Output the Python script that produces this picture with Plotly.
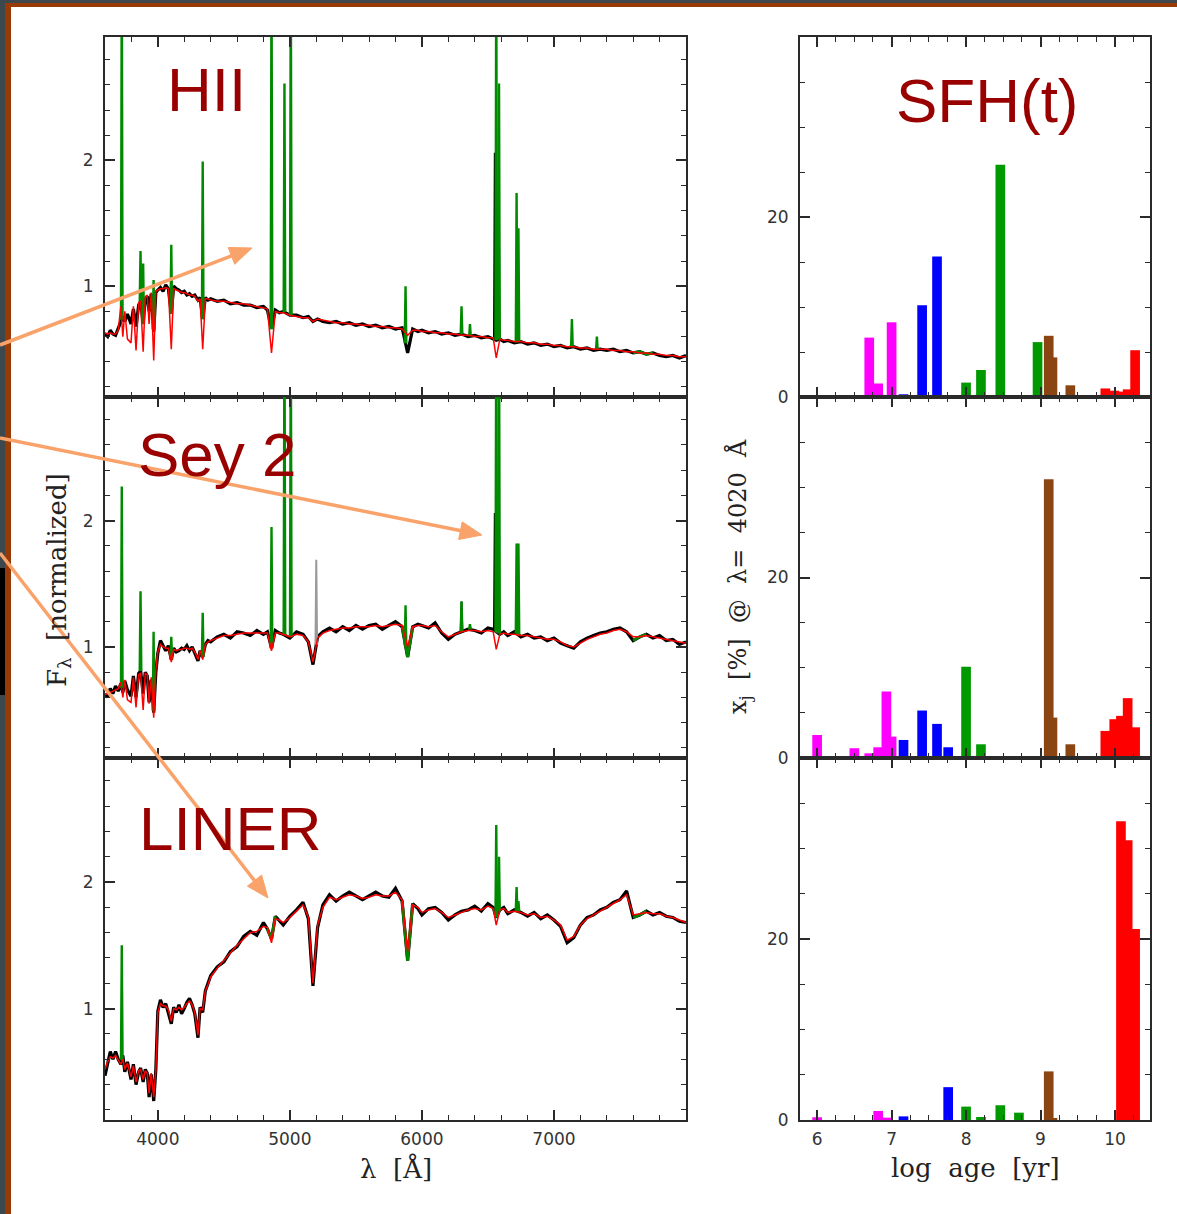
import numpy as np
import plotly.graph_objects as go

# ---------------- DATA ----------------
wavelength = [
    3600, 3620, 3640, 3660, 3680, 3700, 3720, 3735, 3750, 3770,
    3797, 3815, 3835, 3855, 3870, 3889, 3905, 3920, 3934, 3950,
    3969, 3985, 4000, 4020, 4040, 4060, 4080, 4102, 4120, 4140,
    4160, 4180, 4200, 4220, 4240, 4260, 4280, 4304, 4320, 4340,
    4360, 4380, 4400,
    4450, 4500, 4550, 4600, 4650, 4700, 4750, 4800, 4830, 4861,
    4890, 4920, 4950, 5000, 5050, 5100, 5140, 5175, 5210, 5250,
    5300, 5350, 5400, 5450, 5500, 5550, 5600, 5650, 5700, 5750,
    5800, 5850, 5892, 5930, 5970, 6000, 6050, 6100, 6150, 6200,
    6250, 6300, 6350, 6400, 6450, 6500, 6540, 6563, 6590, 6620,
    6650, 6700, 6750, 6800, 6850, 6900, 6950, 7000, 7050, 7100,
    7150, 7200, 7250, 7300, 7350, 7400, 7450, 7500, 7550, 7600,
    7650, 7700, 7750, 7800, 7850, 7900, 7950, 8000,
]

hii_obs = [
    0.62, 0.60, 0.65, 0.62, 0.61, 0.66, 0.71, 0.76, 0.72, 0.78,
    0.70, 0.82, 0.68, 0.85, 0.88, 0.70, 0.90, 0.92, 0.80, 0.94,
    0.64, 0.95, 0.97, 0.99, 0.96, 1.01, 0.98, 0.78, 1.00, 0.98,
    0.97, 0.95, 0.96, 0.93, 0.94, 0.92, 0.93, 0.89, 0.91, 0.74,
    0.91, 0.89, 0.90,
    0.88, 0.89, 0.86, 0.87, 0.85, 0.85, 0.83, 0.84, 0.81, 0.66,
    0.81, 0.79, 0.80, 0.77, 0.77, 0.75, 0.76, 0.72, 0.74, 0.72,
    0.71, 0.72, 0.70, 0.71, 0.69, 0.70, 0.68, 0.69, 0.67, 0.68,
    0.66, 0.67, 0.47, 0.66, 0.64, 0.65, 0.63, 0.64, 0.62, 0.63,
    0.61, 0.62, 0.60, 0.61, 0.59, 0.60, 0.58, 0.57, 0.58, 0.56,
    0.57, 0.55, 0.56, 0.54, 0.55, 0.53, 0.54, 0.52, 0.53, 0.51,
    0.52, 0.50, 0.51, 0.49, 0.50, 0.49, 0.50, 0.48, 0.49, 0.47,
    0.48, 0.46, 0.47, 0.45, 0.44, 0.45, 0.43, 0.45,
]
hii_model = [
    0.63, 0.62, 0.63, 0.62, 0.62, 0.65, 0.84, 0.60, 0.80, 0.58,
    0.55, 0.84, 0.49, 0.87, 0.88, 0.48, 0.91, 0.93, 0.70, 0.95,
    0.41, 0.96, 0.97, 0.98, 0.98, 0.99, 0.98, 0.50, 0.98, 0.97,
    0.96, 0.95, 0.95, 0.94, 0.93, 0.93, 0.92, 0.88, 0.90, 0.50,
    0.90, 0.90, 0.89,
    0.88, 0.88, 0.87, 0.86, 0.86, 0.85, 0.84, 0.83, 0.82, 0.47,
    0.80, 0.79, 0.79, 0.77, 0.76, 0.75, 0.75, 0.72, 0.74, 0.73,
    0.72, 0.71, 0.71, 0.70, 0.70, 0.69, 0.69, 0.68, 0.68, 0.67,
    0.67, 0.66, 0.61, 0.65, 0.65, 0.64, 0.64, 0.63, 0.63, 0.62,
    0.62, 0.61, 0.61, 0.60, 0.60, 0.59, 0.59, 0.43, 0.58, 0.57,
    0.57, 0.56, 0.56, 0.55, 0.55, 0.54, 0.54, 0.53, 0.53, 0.52,
    0.52, 0.51, 0.51, 0.50, 0.50, 0.50, 0.49, 0.49, 0.48, 0.48,
    0.47, 0.47, 0.46, 0.46, 0.45, 0.45, 0.44, 0.44,
]

sey_obs = [
    0.63, 0.60, 0.67, 0.63, 0.69, 0.65, 0.71, 0.64, 0.73, 0.66,
    0.61, 0.77, 0.60, 0.79, 0.81, 0.63, 0.80, 0.77, 0.56, 0.74,
    0.48, 0.80, 0.95, 1.05, 1.01, 0.97, 1.01, 0.90, 0.99, 0.96,
    0.97, 0.99, 0.98, 1.01, 0.97, 1.00, 0.95, 0.89, 0.97, 0.92,
    1.02, 1.05, 1.04,
    1.08, 1.10, 1.07, 1.12, 1.11, 1.09, 1.13, 1.10, 1.12, 0.99,
    1.13, 1.11, 1.10, 1.07, 1.12, 1.10, 1.04, 0.86, 1.08, 1.12,
    1.15, 1.12, 1.16, 1.13, 1.17, 1.14, 1.17, 1.18, 1.14, 1.17,
    1.20, 1.16, 0.92, 1.16, 1.18, 1.17, 1.15, 1.19, 1.11, 1.06,
    1.10, 1.12, 1.14, 1.13, 1.11, 1.15, 1.14, 1.12, 1.10, 1.12,
    1.09, 1.12, 1.08, 1.10, 1.07, 1.08, 1.05, 1.07, 1.03, 1.01,
    0.99, 1.04, 1.07, 1.09, 1.11, 1.12, 1.14, 1.15, 1.12, 1.05,
    1.08, 1.10, 1.07, 1.09, 1.05, 1.06, 1.02, 1.04,
]
sey_model = [
    0.62, 0.63, 0.64, 0.65, 0.66, 0.67, 0.72, 0.60, 0.74, 0.58,
    0.56, 0.76, 0.52, 0.78, 0.79, 0.50, 0.79, 0.78, 0.55, 0.76,
    0.44, 0.82, 0.96, 1.02, 1.00, 0.99, 0.99, 0.88, 0.98, 0.97,
    0.98, 0.98, 0.99, 0.99, 0.98, 0.99, 0.96, 0.90, 0.97, 0.90,
    1.02, 1.04, 1.05,
    1.07, 1.09, 1.09, 1.10, 1.11, 1.11, 1.11, 1.11, 1.11, 0.97,
    1.11, 1.11, 1.10, 1.08, 1.10, 1.09, 1.04, 0.88, 1.07, 1.11,
    1.13, 1.14, 1.15, 1.15, 1.16, 1.16, 1.16, 1.17, 1.16, 1.17,
    1.18, 1.17, 1.00, 1.16, 1.17, 1.17, 1.16, 1.17, 1.12, 1.08,
    1.10, 1.12, 1.13, 1.13, 1.12, 1.13, 1.12, 0.98, 1.10, 1.11,
    1.10, 1.10, 1.09, 1.09, 1.08, 1.07, 1.06, 1.06, 1.04, 1.01,
    1.00, 1.03, 1.06, 1.08, 1.10, 1.11, 1.13, 1.14, 1.12, 1.08,
    1.08, 1.09, 1.08, 1.07, 1.06, 1.05, 1.04, 1.03,
]

liner_obs = [
    0.47, 0.58, 0.66, 0.60, 0.66, 0.60, 0.56, 0.63, 0.50, 0.58,
    0.44, 0.56, 0.40, 0.50, 0.53, 0.42, 0.52, 0.49, 0.30, 0.48,
    0.27, 0.52, 0.98, 1.07, 1.01, 1.04, 0.97, 0.88, 1.01, 0.97,
    1.03, 0.96, 1.00, 1.05, 1.08, 1.03, 0.96, 0.77, 1.01, 0.97,
    1.14, 1.20, 1.26,
    1.33, 1.37, 1.45, 1.49, 1.57, 1.61, 1.58, 1.68, 1.63, 1.55,
    1.73, 1.69, 1.66, 1.73, 1.78, 1.84, 1.71, 1.18, 1.64, 1.82,
    1.90, 1.85, 1.89, 1.92, 1.89, 1.86, 1.89, 1.92, 1.89, 1.88,
    1.95, 1.85, 1.38, 1.83, 1.79, 1.74, 1.79, 1.80, 1.76, 1.70,
    1.74, 1.77, 1.78, 1.81, 1.77, 1.83, 1.80, 1.72, 1.78, 1.80,
    1.75, 1.78, 1.76, 1.73, 1.76, 1.71, 1.74, 1.70, 1.65, 1.52,
    1.56, 1.66, 1.72, 1.74, 1.78, 1.80, 1.84, 1.86, 1.93, 1.72,
    1.74, 1.77, 1.74, 1.76, 1.73, 1.72, 1.69, 1.68,
]
liner_model = [
    0.52, 0.58, 0.62, 0.61, 0.63, 0.60, 0.56, 0.60, 0.52, 0.57,
    0.46, 0.55, 0.42, 0.51, 0.52, 0.44, 0.51, 0.49, 0.33, 0.49,
    0.30, 0.52, 0.97, 1.04, 1.02, 1.02, 0.99, 0.90, 1.00, 0.99,
    1.01, 0.99, 1.01, 1.04, 1.06, 1.03, 0.97, 0.79, 1.00, 0.99,
    1.14, 1.19, 1.25,
    1.32, 1.38, 1.44, 1.50, 1.55, 1.60, 1.61, 1.65, 1.64, 1.52,
    1.71, 1.70, 1.68, 1.72, 1.77, 1.82, 1.72, 1.20, 1.66, 1.80,
    1.88, 1.86, 1.88, 1.90, 1.89, 1.87, 1.88, 1.90, 1.89, 1.89,
    1.92, 1.86, 1.45, 1.82, 1.80, 1.76, 1.78, 1.79, 1.76, 1.72,
    1.74, 1.76, 1.78, 1.79, 1.78, 1.81, 1.79, 1.66, 1.78, 1.79,
    1.76, 1.77, 1.76, 1.74, 1.75, 1.72, 1.73, 1.70, 1.66, 1.54,
    1.57, 1.66, 1.71, 1.74, 1.77, 1.80, 1.83, 1.86, 1.90, 1.74,
    1.75, 1.76, 1.75, 1.75, 1.73, 1.72, 1.70, 1.68,
]

# emission lines (green): wavelength and peak flux
hii_line_wl = [3727, 3869, 3889, 3968, 4102, 4340, 4861, 4959, 5007, 5876,
               6300, 6364, 6563, 6584, 6717, 6731, 7136, 7325]
hii_line_peak = [3.6, 1.28, 1.18, 1.05, 1.33, 1.99, 3.6, 2.61, 3.6, 1.00,
                 0.84, 0.70, 3.6, 2.61, 1.74, 1.46, 0.74, 0.60]
sey_line_wl = [3727, 3869, 3968, 4102, 4340, 4861, 4959, 5007, 5876,
               6300, 6364, 6563, 6584, 6717, 6731]
sey_line_peak = [2.27, 1.44, 1.12, 1.08, 1.27, 1.95, 3.6, 3.6, 1.33,
                 1.36, 1.18, 3.6, 3.6, 1.82, 1.82]
liner_line_wl = [3727, 6563, 6584, 6717, 6731]
liner_line_peak = [1.50, 2.45, 2.20, 1.96, 1.85]

# observed (black / gray) line wings
hii_black_wl = [6552]
hii_black_peak = [2.06]
sey_black_wl = [6552, 6300]
sey_black_peak = [2.06, 1.36]
sey_gray_wl = [5200, 6570]
sey_gray_peak = [1.69, 1.70]

# masked windows (drawn green)
hii_masks = [(7590, 7760)]
sey_masks = [(5850, 5930), (7590, 7700)]
liner_masks = [(4830, 4890), (5850, 5930), (7580, 7700)]

# SFH
log_age = [6.0, 6.5, 6.7, 6.82, 6.93, 7.0, 7.16, 7.41, 7.61, 7.76, 8.0, 8.2,
           8.46, 8.71, 8.96, 9.11, 9.16, 9.4, 9.87, 9.99, 10.08, 10.17, 10.27]
sfh_hii = [0, 0, 6.6, 1.5, 0, 8.3, 0.3, 10.2, 15.6, 0, 1.6, 3.0,
           25.8, 0, 6.1, 6.8, 4.4, 1.3, 0.95, 0.7, 0.6, 0.85, 5.2]
sfh_sey = [2.55, 1.08, 0.52, 1.19, 7.37, 2.37, 2.0, 5.26, 3.78, 1.19, 10.1, 1.52,
           0, 0, 0, 30.9, 4.48, 1.52, 3.0, 4.3, 4.67, 6.63, 3.4]
sfh_liner = [0.3, 0, 0, 1.0, 0.26, 0, 0.4, 0, 0, 3.63, 1.48, 0.33,
             1.63, 0.81, 0, 5.37, 0.2, 0, 0, 0, 33.0, 30.9, 21.1]

panel_labels = ["HII", "Sey 2", "LINER"]
wave_ticks = [4000, 5000, 6000, 7000]

# ---------------- FIGURE ----------------
W, H = 1177, 1214
fig = go.Figure()


def fx(p):
    return p / W


def fy(p):
    return 1 - p / H


left_dom = [fx(105), fx(686)]
right_dom = [fx(800), fx(1150)]
rows = [(37, 397), (397, 758), (758, 1120)]

BLACK = "#000000"
RED = "#ff0000"
GREEN = "#008a00"
AXC = "#2a2a2a"


def age_color(a):
    if a < 7.08:
        return "#ff00ff"
    if a < 7.9:
        return "#0000ff"
    if a < 9.05:
        return "#009900"
    if a < 9.6:
        return "#8b4513"
    return "#ff0000"


def spikes(wls, peaks, obs):
    xs, ys = [], []
    for w, p in zip(wls, peaks):
        b = float(np.interp(w, wavelength, obs))
        xs += [w - 6, w, w + 6, None]
        ys += [b, p, b, None]
    return xs, ys


def masked(obs, windows):
    xs, ys = [], []
    for lo, hi in windows:
        for w, v in zip(wavelength, obs):
            if lo <= w <= hi:
                xs.append(w)
                ys.append(v)
        xs.append(None)
        ys.append(None)
    return xs, ys


spectra = [
    (hii_obs, hii_model, hii_line_wl, hii_line_peak, hii_black_wl, hii_black_peak, [], [], hii_masks),
    (sey_obs, sey_model, sey_line_wl, sey_line_peak, sey_black_wl, sey_black_peak, sey_gray_wl, sey_gray_peak, sey_masks),
    (liner_obs, liner_model, liner_line_wl, liner_line_peak, [], [], [], [], liner_masks),
]
sfhs = [sfh_hii, sfh_sey, sfh_liner]

tickfont = dict(family="DejaVu Sans, Liberation Sans", size=17, color="#333")

for i in range(3):
    obs, model, lwl, lpk, bwl, bpk, gwl, gpk, masks = spectra[i]
    xa = f"x{2*i+1}"
    ya = f"y{2*i+1}"
    fig.add_trace(go.Scatter(x=wavelength, y=obs, mode="lines",
                             line=dict(color=BLACK, width=3.2), xaxis=xa, yaxis=ya,
                             showlegend=False, hoverinfo="skip"))
    if bwl:
        sx, sy = spikes(bwl, bpk, obs)
        fig.add_trace(go.Scatter(x=sx, y=sy, mode="lines", line=dict(color=BLACK, width=2),
                                 xaxis=xa, yaxis=ya, showlegend=False, hoverinfo="skip"))
    if gwl:
        sx, sy = spikes(gwl, gpk, obs)
        fig.add_trace(go.Scatter(x=sx, y=sy, mode="lines", line=dict(color="#9a9a9a", width=2),
                                 xaxis=xa, yaxis=ya, showlegend=False, hoverinfo="skip"))
    mx, my = masked(obs, masks)
    fig.add_trace(go.Scatter(x=mx, y=my, mode="lines", line=dict(color=GREEN, width=2.8),
                             xaxis=xa, yaxis=ya, showlegend=False, hoverinfo="skip"))
    sx, sy = spikes(lwl, lpk, obs)
    fig.add_trace(go.Scatter(x=sx, y=sy, mode="lines", line=dict(color=GREEN, width=2.4),
                             xaxis=xa, yaxis=ya, showlegend=False, hoverinfo="skip"))
    fig.add_trace(go.Scatter(x=wavelength, y=model, mode="lines",
                             line=dict(color=RED, width=1.5), xaxis=xa, yaxis=ya,
                             showlegend=False, hoverinfo="skip"))

    xb = f"x{2*i+2}"
    yb = f"y{2*i+2}"
    fig.add_trace(go.Bar(x=log_age, y=sfhs[i], width=0.13,
                         marker=dict(color=[age_color(a) for a in log_age], line=dict(width=0)),
                         xaxis=xb, yaxis=yb, showlegend=False, hoverinfo="skip"))

    top, bot = rows[i]
    ydom = [fy(bot), fy(top)]
    common = dict(showline=True, linecolor=AXC, linewidth=2, mirror="ticks",
                  ticks="inside", tickcolor=AXC, tickwidth=1.5, ticklen=10,
                  showgrid=False, zeroline=False, tickfont=tickfont,
                  automargin=False)
    last = (i == 2)
    fig.layout[f"xaxis{2*i+1}"] = dict(
        common, domain=left_dom, anchor=ya, range=[3600, 8000],
        tickmode="array", tickvals=wave_ticks, showticklabels=last, ticklabelstandoff=3,
        minor=dict(ticks="inside", ticklen=5, tickwidth=1.2, tickcolor=AXC, dtick=200, tick0=0))
    fig.layout[f"yaxis{2*i+1}"] = dict(
        common, domain=ydom, anchor=xa, range=[0.12, 2.98],
        tick0=0, dtick=1, ticklabelstandoff=6,
        minor=dict(ticks="inside", ticklen=5, tickwidth=1.2, tickcolor=AXC, dtick=0.2, tick0=0))
    fig.layout[f"xaxis{2*i+2}"] = dict(
        common, domain=right_dom, anchor=yb, range=[5.77, 10.47],
        tick0=0, dtick=1, showticklabels=last, ticklabelstandoff=3,
        minor=dict(ticks="inside", ticklen=5, tickwidth=1.2, tickcolor=AXC, dtick=0.25, tick0=0))
    fig.layout[f"yaxis{2*i+2}"] = dict(
        common, domain=ydom, anchor=xb, range=[0, 40],
        tickmode="array", tickvals=[0, 20], ticklabelstandoff=6,
        minor=dict(ticks="inside", ticklen=5, tickwidth=1.2, tickcolor=AXC,
                   tickmode="array", tickvals=[5, 10, 15, 25, 30, 35]))

annots = []
SERIF = "DejaVu Serif, Liberation Serif, serif"
P = dict(xref="paper", yref="paper", showarrow=False, xanchor="center", yanchor="middle")
annots.append(dict(P, x=fx(396), y=fy(1168), text="λ  [Å]",
                   font=dict(family=SERIF, size=26, color="#222")))
annots.append(dict(P, x=fx(975), y=fy(1168), text="log  age  [yr]",
                   font=dict(family=SERIF, size=26, color="#222")))
annots.append(dict(P, x=fx(58), y=fy(580), text="F<sub>λ</sub>  [normalized]",
                   textangle=-90, font=dict(family=SERIF, size=26, color="#222")))
annots.append(dict(P, x=fx(739), y=fy(577), text="x<sub>j</sub>  [%]  @  λ=  4020  Å",
                   textangle=-90, font=dict(family=SERIF, size=24, color="#222")))

LBL = dict(family="Liberation Sans, Arial", size=62, color="#990000")
for txt, (cx, cy) in zip(panel_labels + ["SFH(t)"], [(207, 90), (217, 455), (230, 828), (987, 100)]):
    annots.append(dict(P, x=fx(cx), y=fy(cy), text=txt, font=LBL))

ARROW = "#f9a26a"
shapes = [
    dict(type="rect", xref="paper", yref="paper", x0=0, x1=1, y0=fy(3), y1=1,
         fillcolor="#3d484e", line=dict(width=0)),
    dict(type="rect", xref="paper", yref="paper", x0=fx(5), x1=1, y0=fy(7), y1=fy(3),
         fillcolor="#983a06", line=dict(width=0)),
    dict(type="rect", xref="paper", yref="paper", x0=0, x1=fx(5), y0=0, y1=1,
         fillcolor="#3d484e", line=dict(width=0)),
    dict(type="rect", xref="paper", yref="paper", x0=fx(5), x1=fx(11), y0=0, y1=fy(3),
         fillcolor="#983a06", line=dict(width=0)),
    dict(type="rect", xref="paper", yref="paper", x0=0, x1=fx(5), y0=fy(695), y1=fy(568),
         fillcolor="#000000", line=dict(width=0)),
]

# pointer arrows: shaft line + filled triangular head
for (hx, hy, tx, ty) in [(252, 248, 0, 345), (482, 535, 0, 438), (268, 898, 0, 553)]:
    dx, dy = hx - tx, hy - ty
    n = (dx * dx + dy * dy) ** 0.5
    ux, uy = dx / n, dy / n
    L, Wd = 22, 9
    bx, by = hx - L * ux, hy - L * uy
    shapes.append(dict(type="line", xref="paper", yref="paper",
                       x0=fx(tx), y0=fy(ty), x1=fx(bx + 2 * ux), y1=fy(by + 2 * uy),
                       line=dict(color=ARROW, width=3.5), layer="above"))
    p1 = (hx, hy)
    p2 = (bx - Wd * uy, by + Wd * ux)
    p3 = (bx + Wd * uy, by - Wd * ux)
    path = "M {:.5f},{:.5f} L {:.5f},{:.5f} L {:.5f},{:.5f} Z".format(
        fx(p1[0]), fy(p1[1]), fx(p2[0]), fy(p2[1]), fx(p3[0]), fy(p3[1]))
    shapes.append(dict(type="path", xref="paper", yref="paper", path=path,
                       fillcolor=ARROW, line=dict(color=ARROW, width=1), layer="above"))

fig.update_layout(width=W, height=H, margin=dict(l=0, r=0, t=0, b=0, autoexpand=False),
                  paper_bgcolor="white", plot_bgcolor="white",
                  barmode="overlay", annotations=annots, shapes=shapes,
                  showlegend=False)

fig.write_html("out.html",
               post_script="document.body.style.margin='0';document.body.style.overflow='hidden';")
